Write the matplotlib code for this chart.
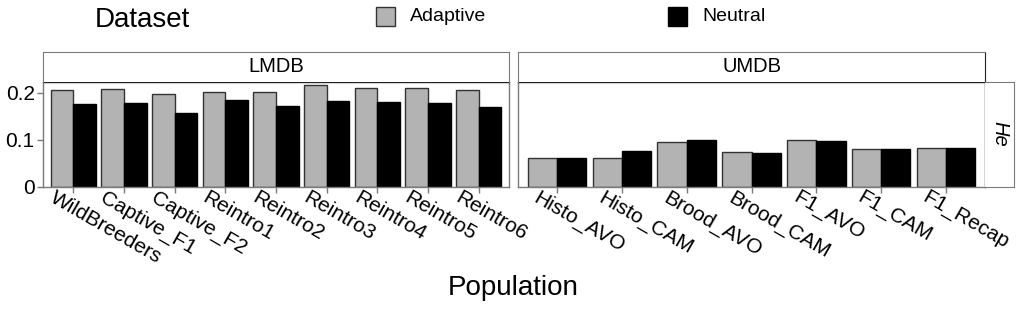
import matplotlib
matplotlib.use("Agg")
import matplotlib.pyplot as plt
from matplotlib.patches import Rectangle
from matplotlib.transforms import ScaledTranslation
import numpy as np

plt.rcParams['font.family'] = ['Liberation Sans', 'DejaVu Sans']

lmdb_pops = ["WildBreeders", "Captive_F1", "Captive_F2", "Reintro1", "Reintro2",
             "Reintro3", "Reintro4", "Reintro5", "Reintro6"]
lmdb_adaptive = [0.207, 0.208, 0.197, 0.203, 0.203, 0.218, 0.211, 0.210, 0.206]
lmdb_neutral = [0.176, 0.179, 0.158, 0.186, 0.172, 0.183, 0.181, 0.179, 0.170]

umdb_pops = ["Histo_AVO", "Histo_CAM", "Brood_AVO", "Brood_CAM", "F1_AVO", "F1_CAM", "F1_Recap"]
umdb_adaptive = [0.062, 0.062, 0.096, 0.074, 0.099, 0.081, 0.082]
umdb_neutral = [0.062, 0.076, 0.099, 0.072, 0.097, 0.080, 0.084]

yticks = [0, 0.1, 0.2]
ytick_labels = ["0", "0.1", "0.2"]
series_names = ["Adaptive", "Neutral"]

W, H = 1022, 322
fig = plt.figure(figsize=(W / 100, H / 100), dpi=100)


def px_rect(x0, y0, x1, y1):
    return [x0 / W, 1 - y1 / H, (x1 - x0) / W, (y1 - y0) / H]


GREY_FILL = "#b3b3b3"
BORDER = "#7a7a7a"
panel_top, panel_bot = 81.7, 187.0
strip_top = 51.7
panels = [
    (43, 509, "LMDB", lmdb_pops, lmdb_adaptive, lmdb_neutral),
    (518, 985, "UMDB", umdb_pops, umdb_adaptive, umdb_neutral),
]

for i, (x0, x1, name, pops, adap, neut) in enumerate(panels):
    ax = fig.add_axes(px_rect(x0, panel_top, x1, panel_bot))
    n = len(pops)
    xs = np.arange(1, n + 1)
    bw = 0.45
    ax.bar(xs - bw / 2, adap, width=bw, color=GREY_FILL, edgecolor="#333333", linewidth=1.0)
    ax.bar(xs + bw / 2, neut, width=bw, color="black", edgecolor="black", linewidth=1.0)
    ax.set_xlim(0.4, n + 0.6)
    ax.set_ylim(0, 0.224)
    for side in ["left", "bottom"]:
        ax.spines[side].set_color(BORDER)
        ax.spines[side].set_linewidth(1.0)
    ax.spines["top"].set_color("#222222")
    ax.spines["top"].set_linewidth(1.0)
    ax.spines["right"].set_color("#222222" if i == 1 else BORDER)
    ax.spines["right"].set_linewidth(1.0)
    ax.set_xticks(xs)
    ax.set_xticklabels([])
    ax.tick_params(axis="x", length=4, color=BORDER, width=1)
    if i == 0:
        ax.set_yticks(yticks)
        ax.set_yticklabels(ytick_labels, fontsize=15)
        ax.tick_params(axis="y", length=4, color=BORDER, width=1, pad=2)
    else:
        ax.set_yticks([])
    off = ScaledTranslation(-17 / 100, -1 / 100, fig.dpi_scale_trans)
    for xv, lab in zip(xs, pops):
        ax.text(xv, 0, lab, transform=ax.get_xaxis_transform() + off,
                rotation=-30, rotation_mode="anchor", ha="left", va="top",
                fontsize=15, clip_on=False)

    sax = fig.add_axes(px_rect(x0, strip_top, x1, panel_top))
    sax.set_xticks([])
    sax.set_yticks([])
    for side in ["left", "right", "top"]:
        sax.spines[side].set_color(BORDER)
    sax.spines["right"].set_color("#222222" if i == 1 else BORDER)
    sax.spines["bottom"].set_visible(False)
    sax.text(0.5, 0.5, name, ha="center", va="center", fontsize=14.5,
             transform=sax.transAxes)

# right-side facet strip
rax = fig.add_axes(px_rect(985, panel_top, 1014, panel_bot))
rax.set_xticks([])
rax.set_yticks([])
for side in ["right", "top", "bottom"]:
    rax.spines[side].set_color(BORDER)
rax.spines["left"].set_visible(False)
rax.text(0.5, 0.5, "He", ha="center", va="center", rotation=-90,
         fontsize=14.5, style="italic", transform=rax.transAxes)

# legend across the top
fig.text(95 / W, 1 - 20 / H, "Dataset", fontsize=20, ha="left", va="center")
key_specs = [(376, GREY_FILL, "#333333"), (668, "black", "black")]
for (kx, fc, ec), lab in zip(key_specs, series_names):
    fig.patches.append(Rectangle((kx / W, 1 - 26 / H), 19 / W, 19 / H,
                                 transform=fig.transFigure, facecolor=fc,
                                 edgecolor=ec, linewidth=1.0))
    fig.text((kx + 34) / W, 1 - 16.5 / H, lab, fontsize=14, ha="left", va="center")

fig.text(513 / W, 1 - 288 / H, "Population", fontsize=20, ha="center", va="center")

fig.savefig("out.png", dpi=100)
